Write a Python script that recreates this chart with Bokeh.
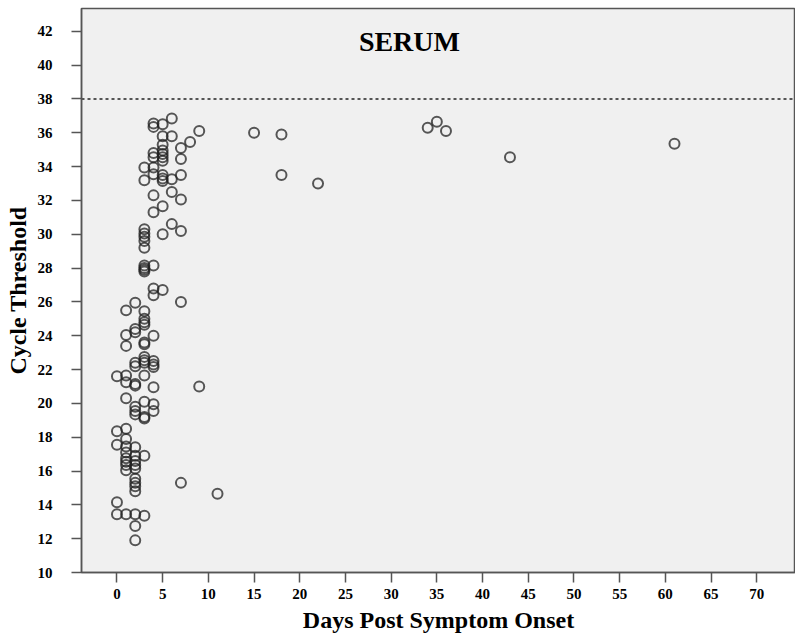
from bokeh.plotting import figure
from bokeh.models import ColumnDataSource, Span, Label, FixedTicker
from bokeh.embed import file_html
from bokeh.resources import INLINE

# Cycle threshold values read per day post symptom onset
ct_day0 = [21.6, 18.35, 17.55, 14.15, 13.45]
ct_day1 = [25.5, 24.05, 23.4, 21.65, 21.25, 20.3, 18.5, 17.9, 17.45, 17.1, 16.75, 16.55, 16.35, 16.05, 13.45]
ct_day2 = [25.95, 24.4, 24.2, 22.4, 22.2, 21.15, 21.05, 19.8, 19.55, 19.35, 17.4, 16.9, 16.6, 16.35, 16.15,
           15.55, 15.3, 15.1, 14.8, 13.45, 12.75, 11.9]
ct_day3 = [33.95, 33.2, 30.3, 30.05, 29.85, 29.6, 29.2, 28.15, 28.0, 27.9, 27.8, 25.45, 25.0, 24.8, 24.65,
           23.6, 23.5, 22.75, 22.55, 22.4, 21.65, 20.1, 19.2, 19.1, 16.9, 13.35]
ct_day4 = [36.55, 36.35, 34.8, 34.55, 33.95, 33.55, 32.3, 31.3, 28.15, 26.8, 26.4, 24.0, 22.5, 22.3, 22.15,
           20.95, 19.95, 19.55]
ct_day5 = [36.5, 35.8, 35.3, 34.95, 34.75, 34.55, 34.35, 33.5, 33.3, 33.15, 31.65, 30.0, 26.7]
ct_day6 = [36.85, 35.8, 33.25, 32.5, 30.6]
ct_day7 = [35.1, 34.45, 33.5, 32.05, 30.2, 26.0, 15.3]
ct_day8 = [35.45]
ct_day9 = [36.1, 21.0]
ct_day11 = [14.65]
ct_day15 = [36.0]
ct_day18 = [35.9, 33.5]
ct_day22 = [33.0]
ct_day34 = [36.3]
ct_day35 = [36.65]
ct_day36 = [36.1]
ct_day43 = [34.55]
ct_day61 = [35.35]

groups = [(0, ct_day0), (1, ct_day1), (2, ct_day2), (3, ct_day3), (4, ct_day4), (5, ct_day5),
          (6, ct_day6), (7, ct_day7), (8, ct_day8), (9, ct_day9), (11, ct_day11), (15, ct_day15),
          (18, ct_day18), (22, ct_day22), (34, ct_day34), (35, ct_day35), (36, ct_day36),
          (43, ct_day43), (61, ct_day61)]

x_ticks = list(range(0, 71, 5))
y_ticks = list(range(10, 43, 2))
cutoff = 38
title_text = "SERUM"

xs, ys = [], []
for d, vals in groups:
    for v in vals:
        xs.append(d)
        ys.append(v)
src = ColumnDataSource(data=dict(day=xs, ct=ys))

FONT = "Liberation Serif"

p = figure(width=795, height=635,
           x_range=(-3.88, 74.24), y_range=(10, 43.35),
           output_backend="svg", toolbar_location=None,
           min_border_left=81, min_border_right=0, min_border_top=8, min_border_bottom=58)

p.background_fill_color = "#f0f0f0"
p.border_fill_color = "white"
p.outline_line_color = "#555555"
p.outline_line_width = 1.5
p.xgrid.visible = False
p.ygrid.visible = False

p.add_layout(Span(location=cutoff, dimension="width", line_color="#555555",
                  line_width=2, line_dash="3 3"))

p.scatter(x="day", y="ct", source=src, marker="circle", size=10,
          fill_color=None, line_color="#222222", line_alpha=0.75, line_width=2)

for ax in (p.xaxis[0], p.yaxis[0]):
    ax.axis_line_color = "#555555"
    ax.axis_line_width = 1.5
    ax.major_tick_line_color = "#555555"
    ax.major_tick_line_width = 1.5
    ax.major_tick_out = 10
    ax.major_tick_in = 0
    ax.minor_tick_line_color = None
    ax.major_label_text_font = FONT
    ax.major_label_text_font_style = "bold"
    ax.major_label_text_font_size = "15px"
    ax.major_label_text_color = "black"
    ax.axis_label_text_font = FONT
    ax.axis_label_text_font_style = "bold"
    ax.axis_label_text_font_size = "24px"
    ax.axis_label_text_color = "black"

p.xaxis.ticker = FixedTicker(ticks=x_ticks)
p.yaxis.ticker = FixedTicker(ticks=y_ticks)
p.xaxis.axis_label = "Days Post Symptom Onset"
p.yaxis.axis_label = "Cycle Threshold"
p.xaxis.major_label_standoff = 6
p.yaxis.major_label_standoff = 19
p.xaxis.axis_label_standoff = 5
p.yaxis.axis_label_standoff = 4

p.add_layout(Label(x=32.0, y=41.4, text=title_text, text_font=FONT, text_font_style="bold",
                   text_font_size="28px", text_align="center", text_baseline="middle",
                   text_color="black"))

open("out.html", "w").write(file_html(p, INLINE))
